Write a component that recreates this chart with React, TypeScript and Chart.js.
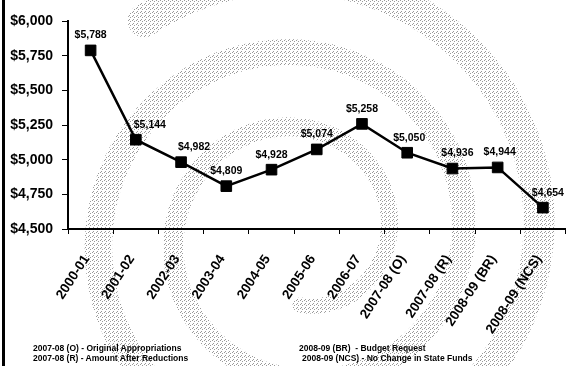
import { useEffect, useRef } from "react";
import { Chart, registerables } from "chart.js";

Chart.register(...registerables);

// Fiscal years on the category axis
const years = [
  "2000-01",
  "2001-02",
  "2002-03",
  "2003-04",
  "2004-05",
  "2005-06",
  "2006-07",
  "2007-08 (O)",
  "2007-08 (R)",
  "2008-09 (BR)",
  "2008-09 (NCS)",
];

// Funding per year, in dollars
const funding = [5788, 5144, 4982, 4809, 4928, 5074, 5258, 5050, 4936, 4944, 4654];

// Value axis ticks
const yTicks = [4500, 4750, 5000, 5250, 5500, 5750, 6000];

// Footnote legend for the abbreviated years
const notesLeft = [
  "2007-08 (O) - Original Appropriations",
  "2007-08 (R) - Amount After Reductions",
];
const notesRight = [
  "2008-09 (BR)  - Budget Request",
  "2008-09 (NCS) - No Change in State Funds",
];

// Horizontal nudges for the value labels so they clear the line
const labelNudge = [0, 14, 13, 0, 0, 0, 0, 2, 5, 2, 5];

const FONT = "'Liberation Sans', Arial, Helvetica, sans-serif";

const money = (v: number) => "$" + Number(v).toLocaleString("en-US");

// Faint dithered watermark swirl behind the plot
const swirlPlugin = {
  id: "swirl",
  beforeDraw(chart: any) {
    const ctx = chart.ctx as CanvasRenderingContext2D;
    const tile = document.createElement("canvas");
    tile.width = 4;
    tile.height = 4;
    const t = tile.getContext("2d")!;
    t.fillStyle = "#9a9a9a";
    t.fillRect(0, 0, 1, 1);
    t.fillRect(2, 1, 1, 1);
    t.fillRect(1, 3, 1, 1);
    const pattern = ctx.createPattern(tile, "repeat")!;
    ctx.save();
    ctx.fillStyle = "#fff";
    ctx.fillRect(0, 0, chart.width, chart.height);
    ctx.strokeStyle = pattern;
    ctx.lineCap = "round";
    const cx = 300;
    const cy = 235;
    const steps = 300;
    const turns = 2.6;
    let prev: [number, number] | null = null;
    for (let i = 0; i <= steps; i++) {
      const s = (i / steps) * turns;
      const phi = Math.PI / 2 - 2 * Math.PI * s;
      const r = 70 + 75 * s;
      const x = cx + r * Math.cos(phi);
      const y = cy + r * Math.sin(phi);
      if (prev) {
        ctx.lineWidth = 15 + 7 * s;
        ctx.beginPath();
        ctx.moveTo(prev[0], prev[1]);
        ctx.lineTo(x, y);
        ctx.stroke();
      }
      prev = [x, y];
    }
    ctx.restore();
  },
};

// Dollar labels above each marker
const valueLabelPlugin = {
  id: "valueLabels",
  afterDatasetsDraw(chart: any) {
    const ctx = chart.ctx as CanvasRenderingContext2D;
    const meta = chart.getDatasetMeta(0);
    ctx.save();
    ctx.font = `bold 10.5px ${FONT}`;
    ctx.fillStyle = "#000";
    ctx.textAlign = "center";
    ctx.textBaseline = "middle";
    meta.data.forEach((pt: any, i: number) => {
      ctx.fillText(money(funding[i]), pt.x + labelNudge[i], pt.y - 15);
    });
    ctx.restore();
  },
};

export default function App() {
  const canvasRef = useRef<HTMLCanvasElement | null>(null);

  useEffect(() => {
    document.body.style.margin = "0";
    const canvas = canvasRef.current;
    if (!canvas) return;
    const chart = new Chart(canvas, {
      type: "line",
      data: {
        labels: years,
        datasets: [
          {
            data: funding,
            borderColor: "#000",
            borderWidth: 2.5,
            backgroundColor: "#000",
            pointStyle: "rect",
            pointRadius: 7.5,
            pointBorderWidth: 1,
            pointBackgroundColor: "#000",
            pointBorderColor: "#000",
            tension: 0,
          },
        ],
      },
      options: {
        animation: false,
        responsive: false,
        maintainAspectRatio: false,
        devicePixelRatio: 1,
        layout: { padding: { top: 21, right: 2, left: 0, bottom: 0 } },
        plugins: {
          legend: { display: false },
          tooltip: { enabled: false },
        },
        scales: {
          x: {
            offset: true,
            grid: {
              offset: true,
              drawOnChartArea: false,
              drawTicks: true,
              tickLength: 5,
              color: "#000",
              lineWidth: 1,
            },
            border: { color: "#000", width: 2 },
            ticks: {
              autoSkip: false,
              maxRotation: 57,
              minRotation: 57,
              padding: 18,
              labelOffset: -4,
              color: "#000",
              font: { family: FONT, size: 13.5, weight: "bold" },
            },
            afterFit: (s: any) => {
              s.height = 137;
              s.paddingLeft = 0;
              s.paddingRight = 0;
            },
          },
          y: {
            min: 4500,
            max: 6000,
            afterBuildTicks: (s: any) => {
              s.ticks = yTicks.map((v) => ({ value: v }));
            },
            grid: {
              drawOnChartArea: false,
              drawTicks: true,
              tickLength: 6,
              color: "#000",
              lineWidth: 1,
            },
            border: { color: "#000", width: 2 },
            ticks: {
              padding: 9,
              color: "#000",
              font: { family: FONT, size: 14, weight: "bold" },
              callback: (v: any) => money(v),
            },
            afterFit: (s: any) => {
              s.width = 68;
            },
          },
        },
      },
      plugins: [swirlPlugin, valueLabelPlugin],
    });
    return () => chart.destroy();
  }, []);

  const noteStyle: any = {
    position: "absolute",
    fontFamily: FONT,
    fontWeight: "bold",
    fontSize: "8.5px",
    lineHeight: "10px",
    color: "#000",
    whiteSpace: "pre",
  };

  return (
    <div
      style={{
        position: "absolute",
        left: 0,
        top: 0,
        width: 570,
        height: 366,
        overflow: "hidden",
        background: "#fff",
      }}
    >
      <canvas ref={canvasRef} width={574} height={366} style={{ display: "block" }} />
      <div
        style={{
          position: "absolute",
          left: 2,
          top: 0,
          width: 3,
          height: 366,
          background: "#000",
        }}
      />
      <div style={{ ...noteStyle, left: 33, top: 343 }}>{notesLeft[0]}</div>
      <div style={{ ...noteStyle, left: 33, top: 353 }}>{notesLeft[1]}</div>
      <div style={{ ...noteStyle, left: 299, top: 343 }}>{notesRight[0]}</div>
      <div style={{ ...noteStyle, left: 302, top: 353 }}>{notesRight[1]}</div>
    </div>
  );
}
